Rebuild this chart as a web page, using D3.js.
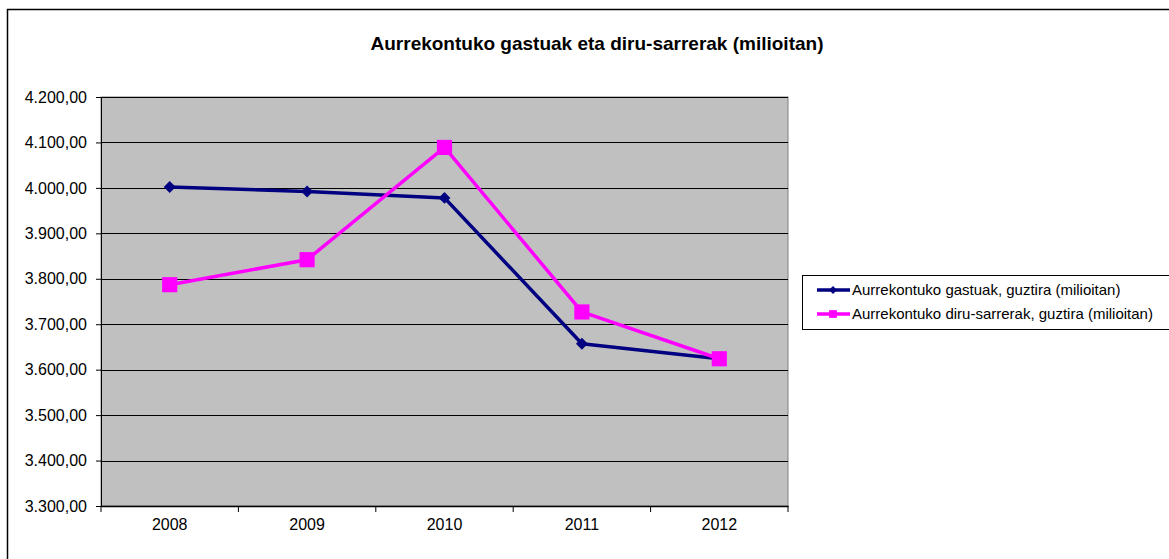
<!DOCTYPE html>
<html>
<head>
<meta charset="utf-8">
<script src="https://cdn.jsdelivr.net/npm/d3@7"></script>
<style>
    body { margin: 0; background: #fff; }
    svg { display: block; font-family: "Liberation Sans", Arial, sans-serif; }
</style>
</head>
<body>
<div class="chart"></div>
<script>
/* Budget chart */

var years = ["2008", "2009", "2010", "2011", "2012"];
var gastuak = [4002, 3992, 3978, 3657, 3624];
var sarrerak = [3787, 3842, 4089, 3727, 3624];
var yTicks = [3300, 3400, 3500, 3600, 3700, 3800, 3900, 4000, 4100, 4200];
var seriesNames = ["Aurrekontuko gastuak, guztira (milioitan)", "Aurrekontuko diru-sarrerak, guztira (milioitan)"];
var chartTitle = "Aurrekontuko gastuak eta diru-sarrerak (milioitan)";

var colorGastuak = "#000080";
var colorSarrerak = "#ff00ff";

var w = 1169;
var h = 559;

var svg = d3.select(".chart")
    .append("svg")
    .attr("width", w)
    .attr("height", h);

// outer frame (only left and top visible)
svg.append("path")
    .attr("d", "M7.5," + h + "V9.5H" + w)
    .attr("fill", "none")
    .attr("stroke", "#000")
    .attr("stroke-width", 1.5);

svg.append("text")
    .attr("x", 597)
    .attr("y", 50)
    .attr("text-anchor", "middle")
    .attr("font-size", "19px")
    .attr("font-weight", "bold")
    .text(chartTitle);

var plot = { left: 101, right: 788, top: 97, bottom: 506 };

var x = d3.scaleBand()
    .domain(years)
    .range([plot.left, plot.right]);

var y = d3.scaleLinear()
    .domain([3300, 4200])
    .range([plot.bottom, plot.top]);

svg.append("rect")
    .attr("x", plot.left)
    .attr("y", plot.top)
    .attr("width", plot.right - plot.left)
    .attr("height", plot.bottom - plot.top)
    .attr("fill", "#c0c0c0")
    .attr("stroke", "#808080")
    .attr("stroke-width", 1);

// gridlines
svg.append("g")
    .selectAll("line")
    .data(yTicks.slice(1))
    .enter()
    .append("line")
    .attr("x1", plot.left)
    .attr("x2", plot.right)
    .attr("y1", function (d) { return Math.round(y(d)) + 0.5; })
    .attr("y2", function (d) { return Math.round(y(d)) + 0.5; })
    .attr("stroke", "#000")
    .attr("stroke-width", 1);

// y axis
var yAxis = svg.append("g")
    .attr("transform", "translate(" + plot.left + ",0)")
    .call(d3.axisLeft(y)
        .tickValues(yTicks)
        .tickSize(5)
        .tickPadding(9)
        .tickFormat(function (d) { return d3.format(",.2f")(d).replace(/,/g, "#").replace(".", ",").replace(/#/g, "."); }));
yAxis.select(".domain").attr("stroke", "#000");
yAxis.selectAll("text").attr("font-size", "16px").attr("fill", "#000").attr("font-family", "Liberation Sans, Arial, sans-serif");

// x axis
var xAxis = svg.append("g")
    .attr("transform", "translate(0," + plot.bottom + ")")
    .call(d3.axisBottom(x).tickSize(0).tickPadding(13));
xAxis.select(".domain").attr("stroke", "#000").attr("stroke-width", 1.5);
xAxis.selectAll("text").attr("font-size", "16px").attr("fill", "#000").attr("font-family", "Liberation Sans, Arial, sans-serif");

// x ticks between categories
svg.append("g")
    .selectAll("line")
    .data(years.concat(["end"]))
    .enter()
    .append("line")
    .attr("x1", function (d, i) { return i < years.length ? x(d) : plot.right; })
    .attr("x2", function (d, i) { return i < years.length ? x(d) : plot.right; })
    .attr("y1", plot.bottom)
    .attr("y2", plot.bottom + 6)
    .attr("stroke", "#000");

var line = d3.line()
    .x(function (d, i) { return x(years[i]) + x.bandwidth() / 2; })
    .y(function (d) { return y(d); });

function drawSeries(values, color, marker, size) {
    svg.append("path")
        .datum(values)
        .attr("d", line)
        .attr("fill", "none")
        .attr("stroke", color)
        .attr("stroke-width", 3.5)
        .attr("stroke-linejoin", "round");

    svg.append("g")
        .selectAll("path")
        .data(values)
        .enter()
        .append("path")
        .attr("transform", function (d, i) {
            return "translate(" + (x(years[i]) + x.bandwidth() / 2) + "," + y(d) + ")";
        })
        .attr("d", d3.symbol().type(marker).size(size))
        .attr("fill", color);
}

drawSeries(gastuak, colorGastuak, d3.symbolDiamond2, 90);
drawSeries(sarrerak, colorSarrerak, d3.symbolSquare, 230);

// Legend
var legend = svg.append("g");
legend.append("rect")
    .attr("x", 802.5)
    .attr("y", 275.5)
    .attr("width", 400)
    .attr("height", 54)
    .attr("fill", "#fff")
    .attr("stroke", "#000")
    .attr("stroke-width", 1);

var legendItems = [
    { name: seriesNames[0], color: colorGastuak, marker: d3.symbolDiamond2, size: 40 },
    { name: seriesNames[1], color: colorSarrerak, marker: d3.symbolSquare, size: 60 }
];

legendItems.forEach(function (item, i) {
    var ly = 290 + i * 24;
    legend.append("line")
        .attr("x1", 817)
        .attr("x2", 850)
        .attr("y1", ly)
        .attr("y2", ly)
        .attr("stroke", item.color)
        .attr("stroke-width", 3.5);
    legend.append("path")
        .attr("transform", "translate(833," + ly + ")")
        .attr("d", d3.symbol().type(item.marker).size(item.size))
        .attr("fill", item.color);
    legend.append("text")
        .attr("x", 852)
        .attr("y", ly + 5)
        .attr("font-size", "15px")
        .text(item.name);
});
</script>
</body>
</html>
